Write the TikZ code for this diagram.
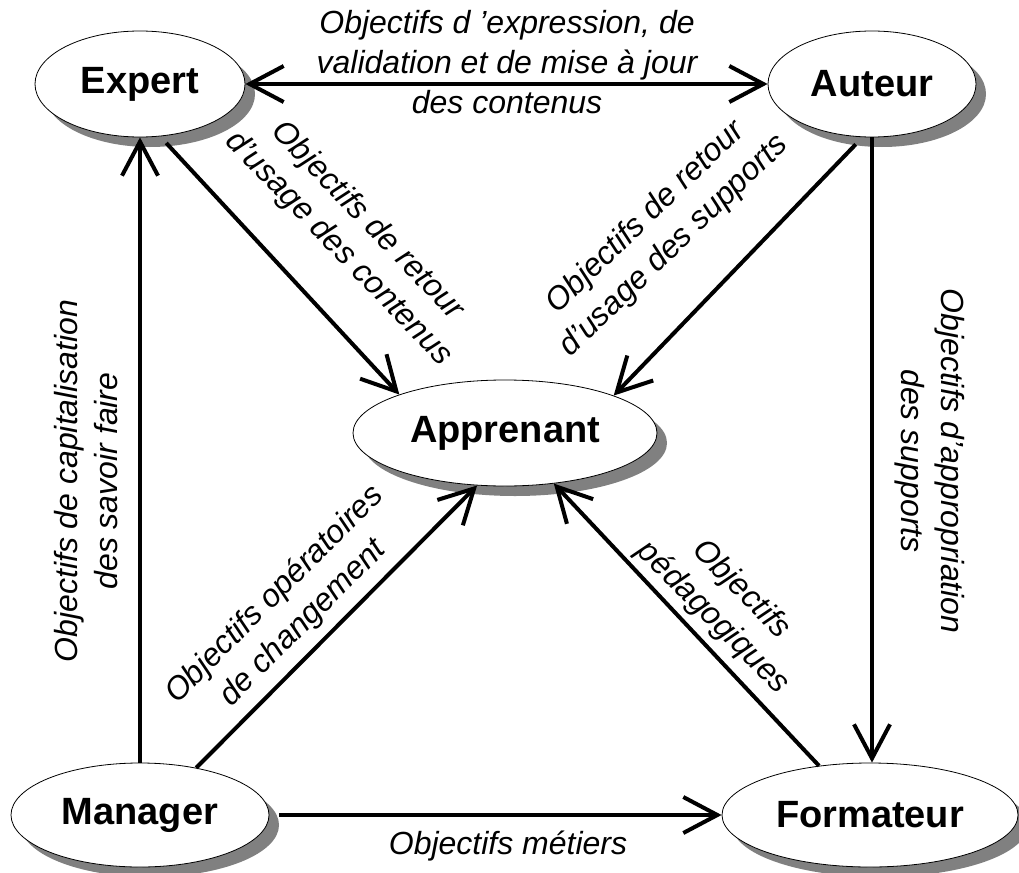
\documentclass[tikz,border=0pt]{standalone}
\usepackage{fontspec}
\setmainfont{Liberation Sans}
\usetikzlibrary{shapes.geometric,arrows.meta,shadows}

\tikzset{
  actor/.style={ellipse, draw, line width=0.8pt, fill=white, inner sep=0pt,
    font=\fontsize{38}{40}\selectfont\bfseries,
    drop shadow={shadow xshift=10pt, shadow yshift=-10pt, fill=black!50, opacity=1}},
  barb/.tip={Straight Barb[length=34pt, width=36pt]},
  link/.style={line width=4pt, -barb},
  lbl/.style={font=\fontsize{32}{40}\selectfont\itshape, align=center, inner sep=0pt}
}

\begin{document}
\begin{tikzpicture}[x=1pt, y=-1pt]
  \useasboundingbox (0,0) rectangle (1019,872);

  % actors
  \node[actor, minimum width=210pt, minimum height=106pt] (expert)    at (140,84)  {Expert};
  \node[actor, minimum width=208pt, minimum height=106pt] (auteur)    at (872,84)  {Auteur};
  \node[actor, minimum width=304pt, minimum height=106pt] (apprenant) at (505,433) {Apprenant};
  \node[actor, minimum width=258pt, minimum height=104pt] (manager)   at (140,815) {Manager};
  \node[actor, minimum width=296pt, minimum height=104pt] (formateur) at (870,815) {Formateur};

  % relations
  \draw[link, barb-barb] (expert.east) -- (auteur.west);
  \draw[link, shorten <=9pt] (expert.-69) -- (apprenant.160);
  \draw[link, shorten <=10pt] (auteur.-100) -- (apprenant.19);
  \draw[link] (auteur.south) -- (auteur.south |- formateur.north);
  \draw[link] (manager.north) -- (expert.south);
  \draw[link] (manager.40) -- (apprenant.-118);
  \draw[link] (formateur.136) -- (apprenant.-46);
  \draw[link, shorten <=10pt] (manager.east) -- (formateur.west);

  % objectives
  \node[lbl] (l-expr) at (507,62) {Objectifs d 'expression, de\\validation et de mise à jour\\des contenus};
  \node[lbl, rotate=-46] (l-cont) at (353,235) {Objectifs de retour\\d’usage des contenus};
  \node[lbl, rotate=44] (l-supp) at (660,232) {Objectifs de retour\\d’usage des supports};
  \node[lbl, rotate=90] (l-capi) at (86,481) {Objectifs de capitalisation\\des savoir faire};
  \node[lbl, rotate=-90] (l-appr) at (930,461) {Objectifs d’appropriation\\des supports};
  \node[lbl, rotate=45] (l-oper) at (289,609) {Objectifs opératoires\\de changement};
  \node[lbl, rotate=-45] (l-peda) at (727,604) {Objectifs\\pédagogiques};
  \node[lbl] (l-meti) at (508,846) {Objectifs métiers};
\end{tikzpicture}
\end{document}
